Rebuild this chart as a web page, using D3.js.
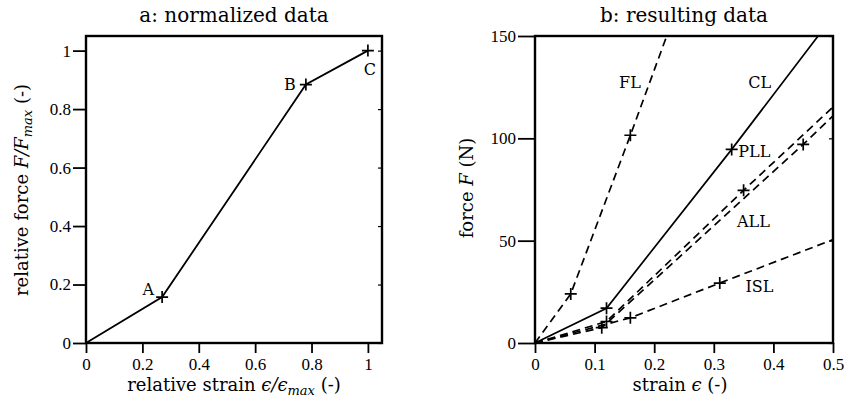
<!DOCTYPE html>
<html>
<head>
<meta charset="utf-8">
<script src="https://cdn.jsdelivr.net/npm/d3@7"></script>
<style>
  body { margin: 0; background: #fff; }
  text { fill: #000; }
</style>
</head>
<body>
<div id="chart"></div>
<script>
// panel a: normalized curve
var normStrain = [0, 0.27, 0.78, 1.0];
var normForce = [0, 0.157, 0.884, 1.0];
var normNames = ["", "A", "B", "C"];
var normTicksX = [0, 0.2, 0.4, 0.6, 0.8, 1];
var normTicksY = [0, 0.2, 0.4, 0.6, 0.8, 1];

// panel b: resulting curves per series
var seriesNames = ["FL", "CL", "PLL", "ALL", "ISL"];
var strainFL = [0, 0.06, 0.16, 0.221];
var forceFL = [0, 24, 101.5, 150];
var strainCL = [0, 0.12, 0.33, 0.475];
var forceCL = [0, 17, 94.6, 150];
var strainPLL = [0, 0.12, 0.35, 0.5];
var forcePLL = [0, 10.5, 74.6, 115.3];
var strainALL = [0, 0.112, 0.45, 0.5];
var forceALL = [0, 7.5, 97, 111];
var strainISL = [0, 0.16, 0.31, 0.5];
var forceISL = [0, 12.3, 29.3, 50.5];
var resTicksX = [0, 0.1, 0.2, 0.3, 0.4, 0.5];
var resTicksY = [0, 50, 100, 150];

var W = 845, H = 401;
var serif = "'DejaVu Serif', serif";
var tickFont = "'Liberation Serif', serif";

var svg = d3
  .select("#chart")
  .append("svg")
  .attr("width", W)
  .attr("height", H);

var zip = function (xs, ys) {
  return xs.map(function (v, i) {
    return { x: v, y: ys[i] };
  });
};

// draws frame + axes, returns scales
const drawPanel = (opt) => {
  var x = d3.scaleLinear().domain(opt.xDomain).range(opt.xRange);
  var y = d3.scaleLinear().domain(opt.yDomain).range(opt.yRange);

  svg
    .append("g")
    .attr("transform", "translate(0," + opt.yRange[0] + ")")
    .call(d3.axisBottom(x).tickValues(opt.xTicks).tickSize(10).tickPadding(5).tickFormat(d3.format("~g")))
    .call((g) => g.selectAll(".domain").remove())
    .call((g) => g.selectAll("line").attr("stroke-width", 1.8))
    .selectAll("text")
    .attr("font-family", tickFont)
    .attr("font-size", 17);

  svg
    .append("g")
    .attr("transform", "translate(" + opt.xRange[0] + ",0)")
    .call(d3.axisLeft(y).tickValues(opt.yTicks).tickSize(opt.yTickLen).tickPadding(2).tickFormat(d3.format("~g")))
    .call((g) => g.selectAll(".domain").remove())
    .call((g) => g.selectAll("line").attr("stroke-width", 1.8))
    .selectAll("text")
    .attr("font-family", tickFont)
    .attr("font-size", 17);

  // small inner ticks on the right edge
  svg
    .append("g")
    .attr("transform", "translate(" + opt.xRange[1] + ",0)")
    .call(d3.axisLeft(y).tickValues(opt.yTicks).tickSize(4).tickFormat(""))
    .call((g) => g.selectAll(".domain").remove())
    .selectAll("line")
    .attr("x2", -4)
    .attr("stroke-width", 1.2);

  svg
    .append("rect")
    .attr("x", opt.xRange[0])
    .attr("y", opt.yRange[1])
    .attr("width", opt.xRange[1] - opt.xRange[0])
    .attr("height", opt.yRange[0] - opt.yRange[1])
    .attr("fill", "none")
    .attr("stroke", "#000")
    .attr("stroke-width", 2.4);

  svg
    .append("text")
    .attr("x", (opt.xRange[0] + opt.xRange[1]) / 2)
    .attr("y", 22)
    .attr("text-anchor", "middle")
    .attr("font-family", serif)
    .attr("font-size", 20)
    .text(opt.title);

  return { x: x, y: y };
};

var line = function (sc) {
  return d3
    .line()
    .x((d) => sc.x(d.x))
    .y((d) => sc.y(d.y));
};

var addMarkers = function (sc, pts) {
  var g = svg.append("g");
  pts.forEach(function (d) {
    var cx = sc.x(d.x), cy = sc.y(d.y);
    g.append("path")
      .attr("d", "M" + (cx - 6) + "," + cy + "h12M" + cx + "," + (cy - 6) + "v12")
      .attr("stroke", "#000")
      .attr("stroke-width", 1.7);
  });
};

// ---- panel a ----
var a = drawPanel({
  xDomain: [0, 1.05],
  xRange: [86, 382],
  yDomain: [0, 1.05],
  yRange: [343, 36],
  xTicks: normTicksX,
  yTicks: normTicksY,
  yTickLen: 13,
  title: "a: normalized data",
});

var normPts = zip(normStrain, normForce);
svg
  .append("path")
  .datum(normPts)
  .attr("fill", "none")
  .attr("stroke", "#000")
  .attr("stroke-width", 1.8)
  .attr("d", line(a));
addMarkers(a, normPts.slice(1));

// point letters
var letterOffset = { A: [-8, -2, "end"], B: [-10, 5, "end"], C: [2, 24, "middle"] };
normPts.forEach(function (d, i) {
  if (!normNames[i]) return;
  var o = letterOffset[normNames[i]];
  svg
    .append("text")
    .attr("x", a.x(d.x) + o[0])
    .attr("y", a.y(d.y) + o[1])
    .attr("text-anchor", o[2])
    .attr("font-family", serif)
    .attr("font-size", 16)
    .text(normNames[i]);
});

// axis labels a
var xl = svg
  .append("text")
  .attr("x", 234)
  .attr("y", 391)
  .attr("text-anchor", "middle")
  .attr("font-family", serif)
  .attr("font-size", 18);
xl.append("tspan").text("relative strain ");
xl.append("tspan").attr("font-style", "italic").text("ϵ/ϵ");
xl.append("tspan").attr("font-style", "italic").attr("font-size", 13).attr("dy", 4).text("max");
xl.append("tspan").attr("dy", -4).text("  (-)");

var yl = svg
  .append("text")
  .attr("transform", "translate(28,190) rotate(-90)")
  .attr("text-anchor", "middle")
  .attr("font-family", serif)
  .attr("font-size", 18);
yl.append("tspan").text("relative force ");
yl.append("tspan").attr("font-style", "italic").text("F/F");
yl.append("tspan").attr("font-style", "italic").attr("font-size", 13).attr("dy", 4).text("max");
yl.append("tspan").attr("dy", -4).text("  (-)");

// ---- panel b ----
var b = drawPanel({
  xDomain: [0, 0.5],
  xRange: [535, 833],
  yDomain: [0, 150],
  yRange: [343, 36],
  xTicks: resTicksX,
  yTicks: resTicksY,
  yTickLen: 17,
  title: "b: resulting data",
});

var series = [
  { name: "FL", pts: zip(strainFL, forceFL), dash: "8,5" },
  { name: "CL", pts: zip(strainCL, forceCL), dash: null },
  { name: "PLL", pts: zip(strainPLL, forcePLL), dash: "8,5" },
  { name: "ALL", pts: zip(strainALL, forceALL), dash: "8,5" },
  { name: "ISL", pts: zip(strainISL, forceISL), dash: "8,5" },
];

series.forEach(function (s) {
  svg
    .append("path")
    .datum(s.pts)
    .attr("fill", "none")
    .attr("stroke", "#000")
    .attr("stroke-width", 1.7)
    .attr("stroke-dasharray", s.dash)
    .attr("d", line(b));
  addMarkers(b, s.pts.slice(1, 3));
});

// curve names, placed in data units
var namePos = [
  [0.141, 124.4],
  [0.358, 124.4],
  [0.341, 90.7],
  [0.339, 56.5],
  [0.353, 24.8],
];
seriesNames.forEach(function (n, i) {
  svg
    .append("text")
    .attr("x", b.x(namePos[i][0]))
    .attr("y", b.y(namePos[i][1]))
    .attr("font-family", serif)
    .attr("font-size", 16)
    .text(n);
});

var xl2 = svg
  .append("text")
  .attr("x", 680)
  .attr("y", 391)
  .attr("text-anchor", "middle")
  .attr("font-family", serif)
  .attr("font-size", 18);
xl2.append("tspan").text("strain ");
xl2.append("tspan").attr("font-style", "italic").text("ϵ");
xl2.append("tspan").text(" (-)");

var yl2 = svg
  .append("text")
  .attr("transform", "translate(473,188) rotate(-90)")
  .attr("text-anchor", "middle")
  .attr("font-family", serif)
  .attr("font-size", 18);
yl2.append("tspan").text("force ");
yl2.append("tspan").attr("font-style", "italic").text("F");
yl2.append("tspan").text(" (N)");
</script>
</body>
</html>
